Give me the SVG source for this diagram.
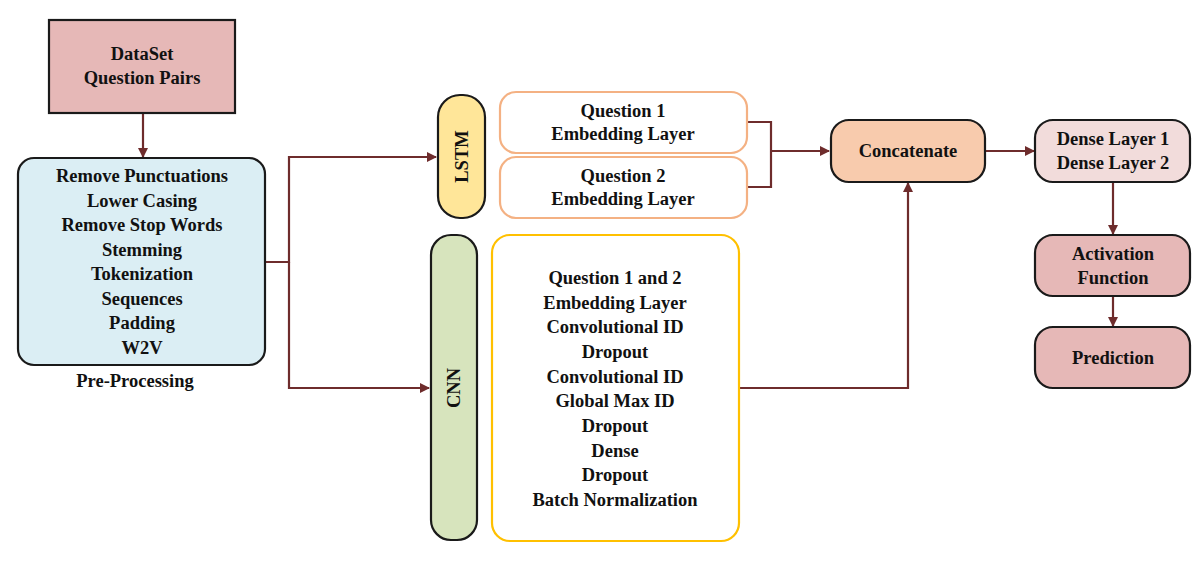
<svg xmlns="http://www.w3.org/2000/svg" width="1200" height="565" viewBox="0 0 1200 565">
<defs>
<style>
text{font-family:"Liberation Serif","Times New Roman",serif;font-weight:bold;font-size:18.5px;text-anchor:middle;fill:#111}
.b{stroke:#1a1a1a;stroke-width:2.2}
.c{fill:none;stroke:#6e2c2c;stroke-width:2.2}
</style>
<marker id="a" markerWidth="10" markerHeight="10" refX="9" refY="5" orient="auto" markerUnits="userSpaceOnUse" viewBox="0 0 10 10"><path d="M0,0L10,5L0,10z" fill="#6e2c2c"/></marker>
</defs>
<rect width="1200" height="565" fill="#fff"/>
<g id="connectors">
<path class="c" d="M143,113V157" marker-end="url(#a)"/>
<path class="c" d="M265,262H289V157H436" marker-end="url(#a)"/>
<path class="c" d="M289,262V388H429" marker-end="url(#a)"/>
<path class="c" d="M747,122H771V187H747M771,151H829" marker-end="url(#a)"/>
<path class="c" d="M985,151H1034" marker-end="url(#a)"/>
<path class="c" d="M1113,182V234" marker-end="url(#a)"/>
<path class="c" d="M1113,296V326" marker-end="url(#a)"/>
<path class="c" d="M739,388H908V183" marker-end="url(#a)"/>
</g>
<g id="dataset"><rect class="b" x="49" y="20" width="186" height="93" fill="#e6b8b7"/><text x="142" y="60">DataSet</text><text x="142" y="84">Question Pairs</text></g>
<g id="preprocessing"><rect class="b" x="18" y="158" width="247" height="207" rx="16" fill="#dbeef4"/>
<text x="142" y="182">Remove Punctuations</text><text x="142" y="207">Lower Casing</text><text x="142" y="231">Remove Stop Words</text><text x="142" y="256">Stemming</text><text x="142" y="280">Tokenization</text><text x="142" y="305">Sequences</text><text x="142" y="329">Padding</text><text x="142" y="354">W2V</text>
<text x="135" y="387">Pre-Processing</text></g>
<g id="lstm"><rect class="b" x="438" y="95" width="47" height="123" rx="22" fill="#ffe699"/><text transform="translate(468,156.5) rotate(-90)">LSTM</text></g>
<g id="q1"><rect x="500" y="92" width="247" height="61" rx="16" fill="#fff" stroke="#f4b183" stroke-width="2.2"/><text x="623" y="117">Question 1</text><text x="623" y="140">Embedding Layer</text></g>
<g id="q2"><rect x="500" y="157" width="247" height="61" rx="16" fill="#fff" stroke="#f4b183" stroke-width="2.2"/><text x="623" y="182">Question 2</text><text x="623" y="205">Embedding Layer</text></g>
<g id="cnn"><rect class="b" x="431" y="235" width="46" height="305" rx="20" fill="#d7e4bd"/><text transform="translate(460,388) rotate(-90)">CNN</text></g>
<g id="cnnlayers"><rect x="492" y="235" width="247" height="306" rx="18" fill="#fff" stroke="#ffc000" stroke-width="2.2"/>
<text x="615" y="284">Question 1 and 2</text><text x="615" y="309">Embedding Layer</text><text x="615" y="333">Convolutional ID</text><text x="615" y="358">Dropout</text><text x="615" y="383">Convolutional ID</text><text x="615" y="407">Global Max ID</text><text x="615" y="432">Dropout</text><text x="615" y="457">Dense</text><text x="615" y="481">Dropout</text><text x="615" y="506">Batch Normalization</text></g>
<g id="concat"><rect class="b" x="831" y="120" width="154" height="62" rx="18" fill="#f8cbad"/><text x="908" y="157">Concatenate</text></g>
<g id="dense"><rect class="b" x="1035" y="120" width="155" height="62" rx="18" fill="#f2dcdb"/><text x="1113" y="145">Dense Layer 1</text><text x="1113" y="169">Dense Layer 2</text></g>
<g id="activation"><rect class="b" x="1035" y="235" width="155" height="61" rx="18" fill="#e6b8b7"/><text x="1113" y="260">Activation</text><text x="1113" y="284">Function</text></g>
<g id="prediction"><rect class="b" x="1035" y="327" width="155" height="61" rx="18" fill="#e6b8b7"/><text x="1113" y="364">Prediction</text></g>
</svg>
